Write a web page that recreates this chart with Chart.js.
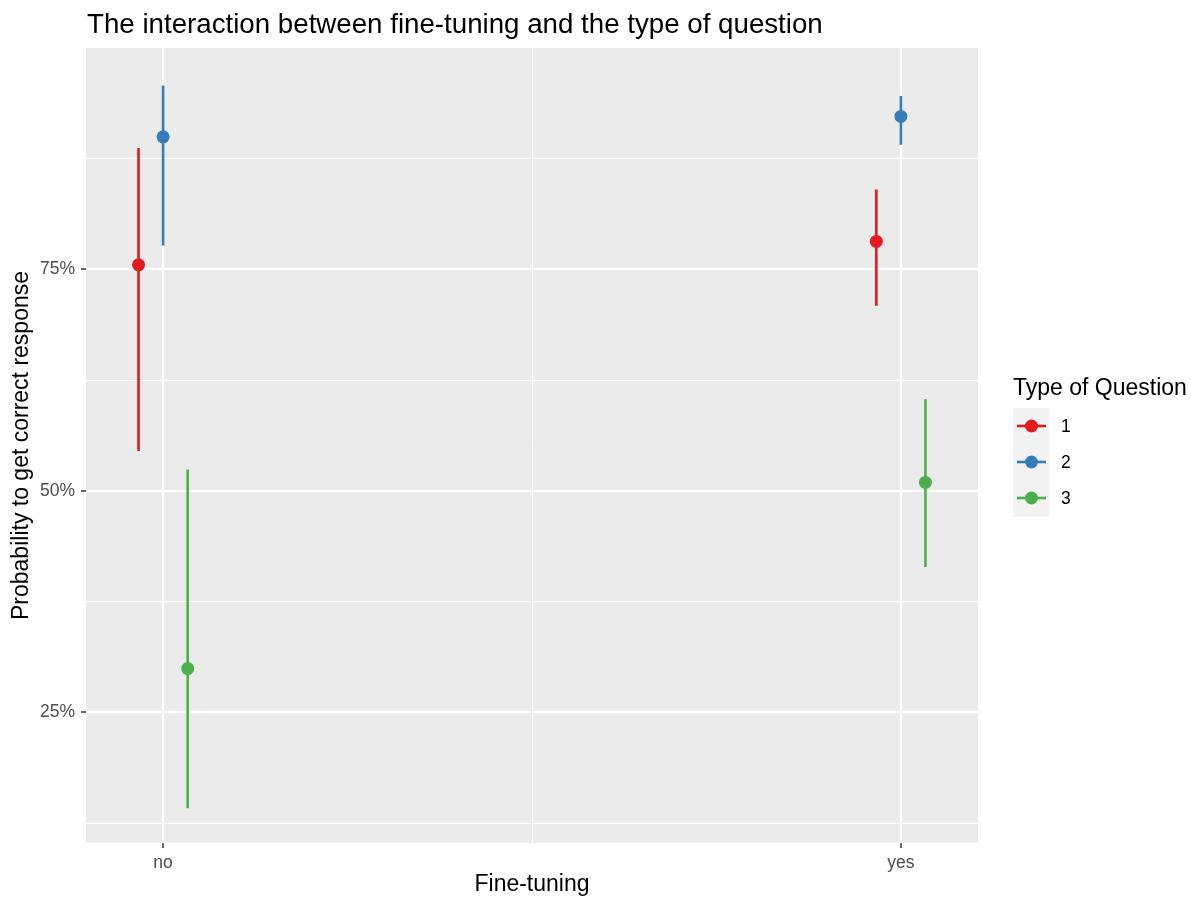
<!DOCTYPE html>
<html>
<head>
<meta charset="utf-8">
<script src="https://cdn.jsdelivr.net/npm/chart.js@4.4.1/dist/chart.umd.min.js"></script>
<style>
  html, body { margin: 0; padding: 0; background: #fff; }
  #wrap { width: 1191px; height: 897px; position: relative; }
</style>
</head>
<body>
<div id="wrap"><canvas id="grafico"></canvas></div>
<script>
// dados (probabilidade em %)
const finetuning = ['no', 'yes'];
const tipos = ['1', '2', '3'];
const cores = ['#E41A1C', '#377EB8', '#4DAF4A'];
const dodge = [-0.0333, 0, 0.0333];

const estimativa = [[75.5, 78.15], [89.95, 92.25], [29.95, 50.95]];
const inferior = [[54.5, 70.9], [77.7, 89.05], [14.2, 41.4]];
const superior = [[88.7, 84.0], [95.75, 94.55], [52.4, 60.35]];

const yTicks = [12.5, 25, 37.5, 50, 62.5, 75, 87.5];
const yRotulos = { 25: '25%', 50: '50%', 75: '75%' };
const xTicks = [1, 1.5, 2];

const FONTE = "'Liberation Sans', Arial, sans-serif";

// pontos
const dsPontos = tipos.map((t, i) => ({
  type: 'scatter', label: t, order: 0,
  data: finetuning.map((f, j) => ({ x: j + 1 + dodge[i], y: estimativa[i][j] })),
  backgroundColor: cores[i], borderWidth: 0, pointRadius: 6.5, pointHoverRadius: 6.5
}));

// barras de erro (segmentos separados por lacuna)
const dsErro = tipos.map((t, i) => {
  const d = [];
  finetuning.forEach((f, j) => {
    if (j > 0) d.push({ x: j + 0.5, y: null });
    d.push({ x: j + 1 + dodge[i], y: inferior[i][j] });
    d.push({ x: j + 1 + dodge[i], y: superior[i][j] });
  });
  return {
    type: 'line', label: 'erro ' + t, order: 1, data: d,
    borderColor: cores[i], borderWidth: 2.6, pointRadius: 0, spanGaps: false, tension: 0
  };
});

const textos = {
  id: 'textos',
  beforeDraw(chart) {
    const { ctx, chartArea: a } = chart;
    ctx.save();
    ctx.fillStyle = '#EBEBEB';
    ctx.fillRect(a.left, a.top, a.right - a.left, a.bottom - a.top);
    ctx.restore();
  },
  afterDraw(chart) {
    const { ctx, chartArea: a } = chart;
    ctx.save();
    ctx.fillStyle = '#000';
    ctx.textBaseline = 'alphabetic';
    // título
    ctx.font = '27.7px ' + FONTE;
    ctx.textAlign = 'left';
    ctx.fillText('The interaction between fine-tuning and the type of question', a.left + 1, 33);
    // títulos dos eixos
    ctx.font = '23px ' + FONTE;
    ctx.textAlign = 'center';
    ctx.textBaseline = 'middle';
    ctx.fillText('Fine-tuning', (a.left + a.right) / 2, 885);
    ctx.save();
    ctx.translate(22, (a.top + a.bottom) / 2);
    ctx.rotate(-Math.PI / 2);
    ctx.fillText('Probability to get correct response', 0, 0);
    ctx.restore();
    // legenda
    ctx.textAlign = 'left';
    ctx.textBaseline = 'alphabetic';
    ctx.fillText('Type of Question', 1013, 395);
    ctx.fillStyle = '#F2F2F2';
    ctx.fillRect(1013, 408, 36, 109);
    tipos.forEach((t, i) => {
      const y = 426 + i * 36;
      ctx.strokeStyle = cores[i];
      ctx.lineWidth = 2.6;
      ctx.beginPath(); ctx.moveTo(1017, y); ctx.lineTo(1046, y); ctx.stroke();
      ctx.fillStyle = cores[i];
      ctx.beginPath(); ctx.arc(1031.5, y, 6.5, 0, Math.PI * 2); ctx.fill();
      ctx.fillStyle = '#000';
      ctx.font = '17.5px ' + FONTE;
      ctx.textBaseline = 'middle';
      ctx.fillText(t, 1061, y + 1);
    });
    ctx.restore();
  }
};

new Chart(document.getElementById('grafico'), {
  data: { datasets: [...dsPontos, ...dsErro] },
  plugins: [textos],
  options: {
    responsive: true, maintainAspectRatio: false, animation: false,
    layout: { padding: { left: 0, right: 213, top: 48, bottom: 0 } },
    plugins: { legend: { display: false }, tooltip: { enabled: false }, title: { display: false } },
    scales: {
      x: {
        type: 'linear', min: 0.8955, max: 2.1045,
        afterFit: s => { s.height = 54; },
        afterBuildTicks: s => { s.ticks = xTicks.map(v => ({ value: v })); },
        border: { display: false },
        grid: {
          color: '#FFFFFF',
          lineWidth: c => (c.tick && c.tick.value === 1.5 ? 1 : 2),
          tickColor: c => (c.tick && c.tick.value === 1.5 ? 'rgba(0,0,0,0)' : '#333333'),
          tickWidth: 1.5, tickLength: 5
        },
        ticks: {
          autoSkip: false, maxRotation: 0, padding: 5,
          color: '#4D4D4D', font: { family: FONTE, size: 17.5 },
          callback: v => (v === 1 ? finetuning[0] : v === 2 ? finetuning[1] : '')
        }
      },
      y: {
        type: 'linear', min: 10.27, max: 99.97,
        afterFit: s => { s.width = 86; },
        afterBuildTicks: s => { s.ticks = yTicks.map(v => ({ value: v })); },
        border: { display: false },
        grid: {
          color: '#FFFFFF',
          lineWidth: c => (c.tick && yRotulos[c.tick.value] ? 2 : 1),
          tickColor: c => (c.tick && yRotulos[c.tick.value] ? '#333333' : 'rgba(0,0,0,0)'),
          tickWidth: 1.5, tickLength: 5
        },
        ticks: {
          autoSkip: false, padding: 6,
          color: '#4D4D4D', font: { family: FONTE, size: 17.5 },
          callback: v => yRotulos[v] || ''
        }
      }
    }
  }
});
</script>
</body>
</html>
